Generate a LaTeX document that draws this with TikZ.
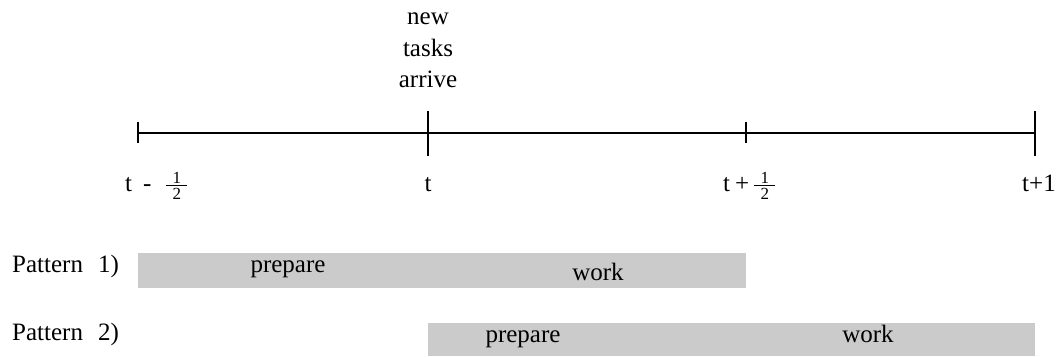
\documentclass[tikz,border=0pt]{standalone}
\usepackage{fontspec}
\setmainfont{Liberation Serif}
\definecolor{barfill}{RGB}{203,203,203}
% one half, stacked by hand: digit, rule, digit
\newcommand\fracdigit[1]{\hbox to 21pt{\hss\fontsize{17}{17}\selectfont #1\hss}}
\newcommand\half{\raisebox{-8pt}{\vbox{\fracdigit{1}\kern1.5pt\hrule height 0.9pt width 21pt\kern2pt\fracdigit{2}}}}
\begin{document}
\begin{tikzpicture}[x=1pt,y=-1pt,
  every node/.style={inner sep=0pt,font=\fontsize{25}{31.5}\selectfont},
  axisline/.style={line width=2.5pt},
  tickmark/.style={line width=2.5pt},
  bar/.style={fill=barfill}]
\useasboundingbox (0,0) rectangle (1057,356);

% time points on the axis
\coordinate (p0) at (138,133);
\coordinate (p1) at (428,133);
\coordinate (p2) at (746,133);
\coordinate (p3) at (1035,133);

\draw[axisline] (p0) -- (p3);
\draw[tickmark] ([yshift=-10pt]p0) -- ([yshift=11pt]p0);
\draw[tickmark] ([yshift=-23pt]p1) -- ([yshift=22pt]p1);
\draw[tickmark] ([yshift=-10pt]p2) -- ([yshift=11pt]p2);
\draw[tickmark] ([yshift=-23pt]p3) -- ([yshift=22pt]p3);

% event label
\node[anchor=south,align=center] (arrive) at (428,88) {new\\tasks\\arrive};

% time labels
\node[anchor=base west] (lm) at (125,191) {t\hspace{11pt}-\hspace{15pt}\half};
\node[anchor=base] (l0) at (428,191) {t};
\node[anchor=base west] (lp) at (723,191) {t\hspace{5pt}+\hspace{5pt}\half};
\node[anchor=base west] (l1) at (1022,191) {t+1};

% pattern rows
\node[anchor=base west] (r1) at (12,272) {Pattern\hspace{15pt}1)};
\node[anchor=base west] (r2) at (12,340) {Pattern\hspace{15pt}2)};

\fill[bar] (138,253) rectangle (746,288);
\fill[bar] (428,323) rectangle (1035,356);

\node[anchor=base] (a1) at (288,272) {prepare};
\node[anchor=base] (b1) at (598,280) {work};
\node[anchor=base] (a2) at (523,342) {prepare};
\node[anchor=base] (b2) at (868,342) {work};
\end{tikzpicture}
\end{document}
